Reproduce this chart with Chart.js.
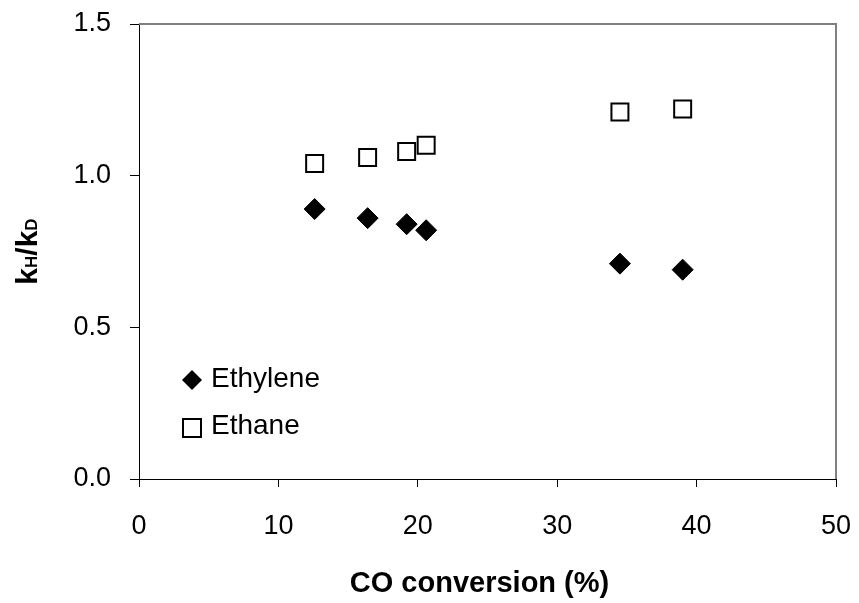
<!DOCTYPE html>
<html>
<head>
<meta charset="utf-8">
<script src="https://cdn.jsdelivr.net/npm/chart.js@4/dist/chart.umd.min.js"></script>
<style>
  html, body { margin: 0; padding: 0; background: #fff; }
  #caja { width: 859px; height: 603px; position: relative; }
</style>
</head>
<body>
<div id="caja"><canvas id="grafica"></canvas></div>
<script>
// conversión de CO (%) y efecto isotópico kH/kD
const conversion = [12.6, 16.4, 19.2, 20.6, 34.5, 39.0];
const etileno = [0.89, 0.86, 0.84, 0.82, 0.71, 0.69];
const etano = [1.04, 1.06, 1.08, 1.10, 1.21, 1.22];
const series = ['Ethylene', 'Ethane'];
const ticksX = [0, 10, 20, 30, 40, 50];
const ticksY = [0.0, 0.5, 1.0, 1.5];
const tituloEjeX = 'CO conversion (%)';

const fuente = '"Liberation Sans", Arial, sans-serif';

const puntos = function (ys) {
    return conversion.map((x, i) => ({ x: x, y: ys[i] }));
};

// marco gris arriba y a la derecha, como en Excel
const marco = {
    id: 'marco',
    afterDraw(chart) {
        const { ctx, chartArea: a } = chart;
        ctx.save();
        ctx.strokeStyle = '#808080';
        ctx.lineWidth = 2;
        ctx.beginPath();
        ctx.moveTo(a.left, a.top);
        ctx.lineTo(a.right, a.top);
        ctx.lineTo(a.right, a.bottom);
        ctx.stroke();
        ctx.restore();
    }
};

// leyenda dentro del área de trazado, abajo a la izquierda
const leyenda = {
    id: 'leyenda',
    afterDraw(chart) {
        const { ctx, chartArea: a } = chart;
        const x = a.left + 53;
        const y1 = a.top + 356;
        const y2 = a.top + 404;
        ctx.save();
        // rombo
        ctx.fillStyle = '#000';
        ctx.beginPath();
        ctx.moveTo(x - 10, y1);
        ctx.lineTo(x, y1 - 10);
        ctx.lineTo(x + 10, y1);
        ctx.lineTo(x, y1 + 10);
        ctx.closePath();
        ctx.fill();
        // cuadro
        ctx.strokeStyle = '#000';
        ctx.lineWidth = 2;
        ctx.strokeRect(x - 9, y2 - 9, 18, 18);
        ctx.font = '28px ' + fuente;
        ctx.textBaseline = 'middle';
        ctx.textAlign = 'left';
        ctx.fillText(series[0], x + 19, y1 - 1);
        ctx.fillText(series[1], x + 19, y2 - 2);
        ctx.restore();
    }
};

// títulos de los ejes: kH/kD con subíndices y la conversión abajo
const titulos = {
    id: 'titulos',
    afterDraw(chart) {
        const { ctx, chartArea: a } = chart;
        const partes = [['k', 30], ['H', 17], ['/', 30], ['k', 30], ['D', 17]];
        ctx.save();
        ctx.fillStyle = '#000';
        ctx.textBaseline = 'alphabetic';
        ctx.textAlign = 'left';
        ctx.translate(37, (a.top + a.bottom) / 2);
        ctx.rotate(-Math.PI / 2);
        let total = 0;
        for (const p of partes) {
            ctx.font = 'bold ' + p[1] + 'px ' + fuente;
            total += ctx.measureText(p[0]).width;
        }
        let pos = -total / 2;
        for (const p of partes) {
            ctx.font = 'bold ' + p[1] + 'px ' + fuente;
            ctx.fillText(p[0], pos, 0);
            pos += ctx.measureText(p[0]).width;
        }
        ctx.restore();

        ctx.save();
        ctx.fillStyle = '#000';
        ctx.font = 'bold 29px ' + fuente;
        ctx.textAlign = 'center';
        ctx.textBaseline = 'middle';
        ctx.fillText(tituloEjeX, (a.left + a.right) / 2 - 8, a.bottom + 105);
        ctx.restore();
    }
};

const ctx = document.getElementById('grafica').getContext('2d');
Chart.defaults.font.family = fuente;
Chart.defaults.color = '#000';

new Chart(ctx, {
    type: 'scatter',
    data: {
        datasets: [
            { label: series[1], data: puntos(etano), pointStyle: 'rect', pointRadius: 12,
              backgroundColor: '#fff', borderColor: '#000', borderWidth: 2 },
            { label: series[0], data: puntos(etileno), pointStyle: 'rectRot', pointRadius: 10.5,
              backgroundColor: '#000', borderColor: '#000', borderWidth: 1 }
        ]
    },
    options: {
        responsive: true,
        maintainAspectRatio: false,
        animation: false,
        layout: { padding: { top: 24, right: 23, left: 0, bottom: 0 } },
        plugins: { legend: { display: false }, tooltip: { enabled: false } },
        scales: {
            x: {
                type: 'linear', min: 0, max: 50,
                afterBuildTicks: (s) => { s.ticks = ticksX.map(v => ({ value: v })); },
                afterFit: (s) => { s.height = 124; s.paddingLeft = 0; s.paddingRight = 0; },
                grid: { drawOnChartArea: false, drawTicks: true, tickLength: 8, color: '#000' },
                border: { display: true, color: '#000', width: 1 },
                ticks: { font: { size: 27 }, padding: 23, maxRotation: 0 }
            },
            y: {
                type: 'linear', min: 0, max: 1.5,
                afterBuildTicks: (s) => { s.ticks = ticksY.map(v => ({ value: v })); },
                afterFit: (s) => { s.width = 139; s.paddingTop = 0; s.paddingBottom = 0; },
                grid: { drawOnChartArea: false, drawTicks: true, tickLength: 9, color: '#000' },
                border: { display: true, color: '#000', width: 1 },
                ticks: { font: { size: 27 }, padding: 19, callback: (v) => Number(v).toFixed(1) }
            }
        }
    },
    plugins: [marco, leyenda, titulos]
});
</script>
</body>
</html>
